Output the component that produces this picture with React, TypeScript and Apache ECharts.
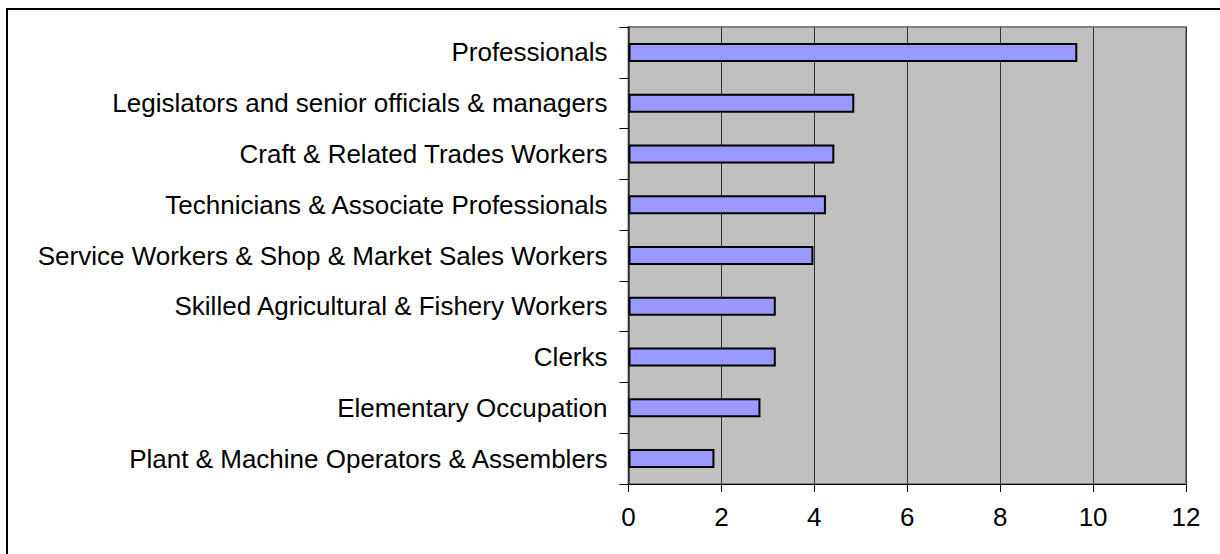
import React, { useEffect, useRef } from "react";
import * as echarts from "echarts";

const categories = [
  "Professionals",
  "Legislators and senior officials & managers",
  "Craft & Related Trades Workers",
  "Technicians & Associate Professionals",
  "Service Workers & Shop & Market Sales Workers",
  "Skilled Agricultural & Fishery Workers",
  "Clerks",
  "Elementary Occupation",
  "Plant & Machine Operators & Assemblers",
];
const values = [9.66, 4.86, 4.43, 4.25, 3.98, 3.17, 3.17, 2.84, 1.85];
const xTicks = { min: 0, max: 12, interval: 2 };

const FONT = "'Liberation Sans', Arial, sans-serif";

export default function App() {
  const ref = useRef<HTMLDivElement>(null);
  useEffect(() => {
    if (!ref.current) return;
    const chart = echarts.init(ref.current, null, { renderer: "svg" });
    chart.setOption({
      animation: false,
      backgroundColor: "#ffffff",
      graphic: [
        {
          type: "rect",
          shape: { x: 7, y: 9, width: 1240, height: 600 },
          style: { fill: "none", stroke: "#000", lineWidth: 2 },
          silent: true,
          z: 100,
        },
      ],
      grid: {
        left: 628.5,
        right: 34,
        top: 27,
        bottom: 70,
        show: true,
        backgroundColor: "#C0C0C0",
        borderColor: "#808080",
        borderWidth: 2,
      },
      xAxis: {
        type: "value",
        min: xTicks.min,
        max: xTicks.max,
        interval: xTicks.interval,
        axisLine: { show: true, lineStyle: { color: "#000", width: 1 } },
        axisTick: { show: true, length: 8, lineStyle: { color: "#000" } },
        axisLabel: { color: "#000", fontSize: 26, fontFamily: FONT, margin: 20 },
        splitLine: { show: true, lineStyle: { color: "#333", width: 1 } },
      },
      yAxis: {
        type: "category",
        data: categories,
        inverse: true,
        axisLine: { show: true, lineStyle: { color: "#333", width: 1.5 } },
        axisTick: { show: true, length: 9, lineStyle: { color: "#000" } },
        axisLabel: { color: "#000", fontSize: 26, fontFamily: FONT, margin: 21 },
        splitLine: { show: false },
      },
      series: [
        {
          type: "bar",
          data: values,
          barWidth: 19,
          itemStyle: { color: "#9999FF", borderColor: "#000", borderWidth: 2 },
        },
      ],
    });
    return () => chart.dispose();
  }, []);
  return (
    <div
      ref={ref}
      style={{ position: "absolute", left: 0, top: 0, width: 1220, height: 554 }}
    />
  );
}
